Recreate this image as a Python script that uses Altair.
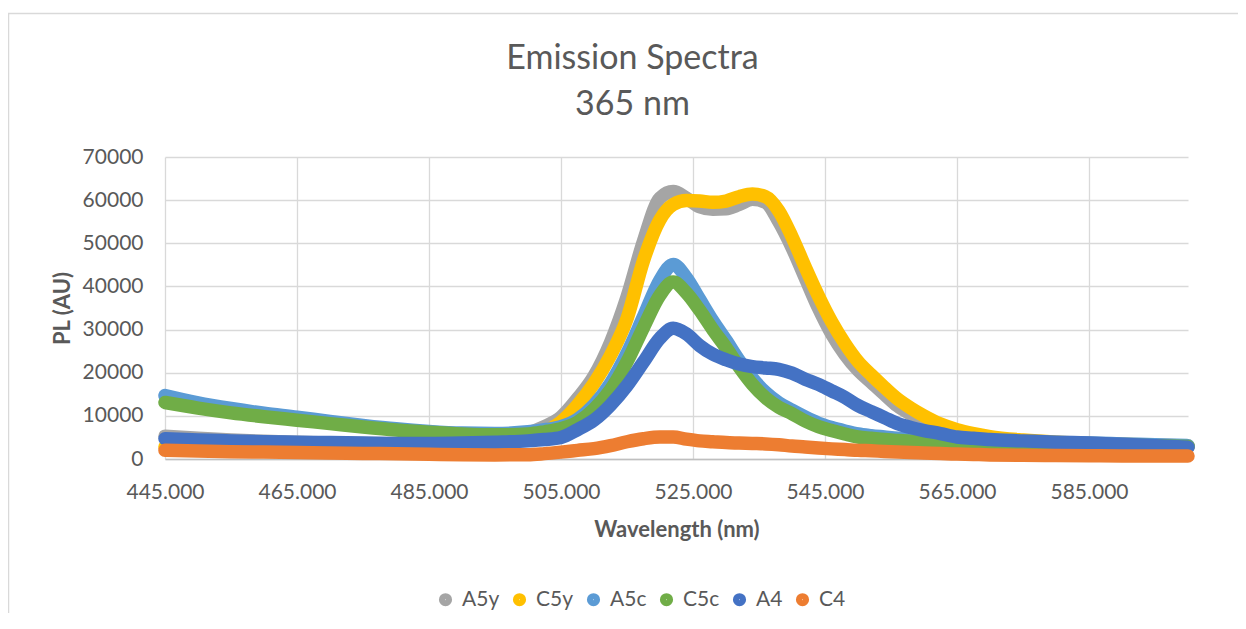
import altair as alt
import pandas as pd

# ---------------- data ----------------
wavelength = [445, 450, 455, 460, 465, 470, 475, 480, 485, 490, 495, 500,
              502.5, 505, 507.5, 510, 512.5, 515, 517.5, 520,
              522, 524, 526, 528, 530, 532, 534, 536, 538, 540, 542, 544, 546, 548, 550,
              552, 554, 556, 558, 560,
              562.5, 565, 567.5, 570,
              575, 580, 585, 590, 595, 600]

series_names = ["A5y", "C5y", "A5c", "C5c", "A4", "C4"]
series_colors = ["#A5A5A5", "#FFC000", "#5B9BD5", "#70AD47", "#4472C4", "#ED7D31"]

a5y = [5300, 4800, 4400, 4100, 3900, 3700, 3600, 3600, 3700, 4000, 4700, 6000,
       7500, 9700, 14000, 19200, 27000, 37500, 50500, 60500,
       62000, 60500, 58500, 57900, 58000, 59000, 60200, 59500, 55000, 49000, 42000, 35000, 29000, 24300, 20600,
       17800, 15000, 12300, 10400, 8800,
       7200, 6100, 5300, 4800,
       4200, 3800, 3500, 3300, 3100, 2900]

c5y = [2800, 2600, 2400, 2300, 2200, 2100, 2000, 2000, 2100, 2400, 3200, 4800,
       6300, 8600, 12500, 17500, 24000, 32500, 46000, 55500,
       59000, 59900, 59800, 59500, 59800, 60800, 61400, 60800, 57500, 51500, 44500, 37800, 31800, 26800, 22600,
       19500, 16600, 13900, 11800, 10000,
       8100, 6800, 5900, 5200,
       4400, 3900, 3600, 3400, 3200, 3000]

a5c = [14700, 13000, 11700, 10600, 9700, 8700, 7800, 7000, 6400, 6000, 5900, 6300,
       6800, 7500, 9200, 12500, 17500, 24500, 33000, 41500,
       45100, 42000, 37000, 32000, 27500, 22800, 18700, 15400, 13000, 11300, 9700, 8300, 7300, 6500, 5800,
       5400, 5100, 4800, 4600, 4400,
       4300, 4200, 4100, 4000,
       3900, 3800, 3700, 3500, 3300, 3100]

c5c = [13100, 11800, 10700, 9800, 9000, 8200, 7400, 6700, 6200, 5800, 5600, 5800,
       6300, 7000, 8500, 11500, 16000, 22500, 30500, 38000,
       41000, 38500, 34500, 30000, 25800, 21300, 17300, 14200, 12000, 10500, 8800, 7500, 6600, 5800, 5100,
       4800, 4500, 4300, 4100, 3900,
       3800, 3700, 3650, 3600,
       3500, 3400, 3300, 3200, 3100, 2900]

a4 = [4700, 4400, 4200, 4000, 3900, 3800, 3700, 3600, 3600, 3700, 3900, 4200,
      4500, 5000, 6800, 9000, 12500, 17000, 22500, 28000,
      30300, 29000, 26300, 24300, 23000, 22000, 21400, 21100, 20800, 19900, 18500, 17300, 15800, 14300, 12400,
      11000, 9600, 8200, 7300, 6600,
      5900, 5100, 4800, 4500,
      4200, 3900, 3700, 3400, 3100, 2700]

c4 = [2000, 1850, 1700, 1600, 1500, 1400, 1300, 1200, 1100, 1000, 950, 1000,
      1250, 1600, 2000, 2400, 3100, 4000, 4700, 5100,
      5100, 4600, 4200, 4000, 3800, 3700, 3600, 3500, 3300, 3000, 2800, 2550, 2350, 2200, 2000,
      1900, 1750, 1650, 1500, 1400,
      1250, 1150, 1050, 950,
      850, 800, 750, 700, 700, 700]

x_ticks = [445, 465, 485, 505, 525, 545, 565, 585]
y_ticks = [0, 10000, 20000, 30000, 40000, 50000, 60000, 70000]

rows = []
for name, vals in zip(series_names, [a5y, c5y, a5c, c5c, a4, c4]):
    for w, v in zip(wavelength, vals):
        rows.append({"Wavelength": w, "PL": v, "Series": name})
df = pd.DataFrame(rows)

FONT = "Lato"
TXT = "#595959"

x_enc = alt.X("Wavelength:Q",
              scale=alt.Scale(domain=[445, 600], nice=False, zero=False),
              axis=alt.Axis(title="Wavelength (nm)", values=x_ticks, format=".3f",
                            labelFlush=False, labelPadding=22, tickSize=0, ticks=False,
                            domainColor="#BFBFBF", domainWidth=1.3,
                            titleY=77, titleBaseline="alphabetic"))
y_enc = alt.Y("PL:Q",
              scale=alt.Scale(domain=[0, 70000], nice=False),
              axis=alt.Axis(title="PL (AU)", values=y_ticks, format="d",
                            labelPadding=22, tickSize=0, ticks=False, domain=False,
                            titleX=-103, titleY=151, titleAngle=-90,
                            titleBaseline="middle", titleAlign="center"))

color_scale = alt.Scale(domain=series_names, range=series_colors)
legend_def = alt.Legend(title=None, orient="none", legendX=270, legendY=432,
                        direction="horizontal", symbolType="circle",
                        symbolSize=38, symbolStrokeWidth=7,
                        labelFont=FONT, labelFontSize=21, labelColor=TXT,
                        columnPadding=2, labelOffset=6)

layers = []
for name in series_names:
    base = alt.Chart(df).transform_filter(alt.datum.Series == name)
    line = base.mark_line(strokeWidth=13.5, strokeCap="round", strokeJoin="round",
                          interpolate="monotone").encode(
        x=x_enc, y=y_enc,
        color=alt.Color("Series:N", scale=color_scale, legend=legend_def))
    layers.append(line)

border = (
    alt.Chart(pd.DataFrame({"b": [0]}))
    .mark_rect(fill="transparent", stroke="#D9D9D9", strokeWidth=1.5, clip=False)
    .encode(x=alt.value(-156.5), x2=alt.value(1100), y=alt.value(-143.5), y2=alt.value(500))
)

chart = (
    alt.layer(border, *layers)
    .properties(
        width=1023, height=302,
        title=alt.TitleParams(text=["Emission Spectra", "365 nm"], font=FONT, fontSize=34,
                              fontWeight="normal", color=TXT, lineHeight=46,
                              anchor="middle", dx=-44, offset=-109),
        padding={"left": 157, "top": 149, "right": 50, "bottom": 154},
        autosize=alt.AutoSizeParams(type="none"),
    )
    .configure_view(strokeWidth=0)
    .configure_axis(labelFont=FONT, labelFontSize=21, labelColor=TXT,
                    titleFont=FONT, titleFontSize=22, titleFontWeight="bold", titleColor=TXT,
                    gridColor="#D9D9D9", gridWidth=1.3)
    .configure_legend(symbolType="circle")
)

chart.save("out.html", embed_options={"renderer": "svg", "actions": False})
